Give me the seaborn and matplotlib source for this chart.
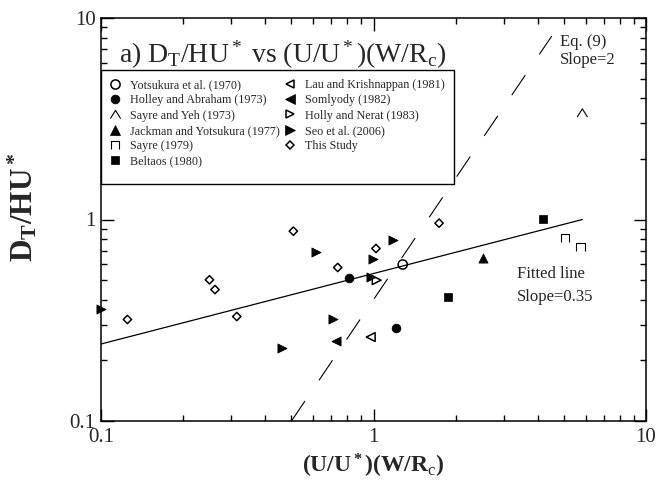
import numpy as np
import pandas as pd
import matplotlib
matplotlib.use("Agg")
import matplotlib.pyplot as plt
import seaborn as sns
from matplotlib.path import Path
from matplotlib.markers import MarkerStyle
from matplotlib.lines import Line2D
from matplotlib.patches import Rectangle
from matplotlib.ticker import FixedLocator, FixedFormatter, LogLocator, NullFormatter

# ---------------- data ----------------
yotsukura_x = [1.28]
yotsukura_y = [0.598]
holley_x = [0.813, 1.206]
holley_y = [0.510, 0.290]
sayre_yeh_x = [5.84]
sayre_yeh_y = [3.38]
jackman_x = [2.515]
jackman_y = [0.645]
sayre_x = [5.04, 5.76]
sayre_y = [0.811, 0.732]
beltaos_x = [4.18, 1.88]
beltaos_y = [1.008, 0.412]
lau_x = [0.977]
lau_y = [0.261]
somlyody_x = [0.729]
somlyody_y = [0.249]
holly_x = [1.027]
holly_y = [0.500]
seo_x = [0.1, 0.463, 0.615, 0.712, 0.979, 0.998, 1.176]
seo_y = [0.358, 0.229, 0.691, 0.319, 0.520, 0.638, 0.789]
study_x = [0.125, 0.25, 0.262, 0.315, 0.508, 0.739, 1.021, 1.74]
study_y = [0.319, 0.502, 0.449, 0.330, 0.875, 0.578, 0.718, 0.959]

fit_x = [0.1, 5.84]
fit_y = [0.241, 1.0]
eq9_x = [0.5, 4.51]
eq9_y = [0.1, 8.14]

tick_values = [0.1, 1, 10]
tick_labels = ["0.1", "1", "10"]

# ---------------- style ----------------
sns.set_style("ticks")
plt.rcParams.update({
    "font.family": ["Liberation Serif", "DejaVu Serif"],
    "mathtext.fontset": "custom",
    "mathtext.rm": "Liberation Serif",
    "mathtext.it": "Liberation Serif:italic",
    "mathtext.bf": "Liberation Serif:bold",
    "lines.scale_dashes": False,
    "axes.linewidth": 1.1,
})

caret = MarkerStyle(Path([(-1, -0.8), (0, 0.8), (1, -0.8)],
                         [Path.MOVETO, Path.LINETO, Path.LINETO]))
cap = MarkerStyle(Path([(-1, -1), (-1, 1), (1, 1), (1, -1)],
                       [Path.MOVETO, Path.LINETO, Path.LINETO, Path.LINETO]))

series = [
    # label, x, y, marker, filled, size(pt^2), lw
    ("Yotsukura et al. (1970)", yotsukura_x, yotsukura_y, "o", False, 44, 1.1),
    ("Holley and Abraham (1973)", holley_x, holley_y, "o", True, 40, 0.5),
    ("Sayre and Yeh (1973)", sayre_yeh_x, sayre_yeh_y, caret, False, 55, 0.8),
    ("Jackman and Yotsukura (1977)", jackman_x, jackman_y, "^", True, 44, 0.5),
    ("Sayre (1979)", sayre_x, sayre_y, cap, False, 38, 0.8),
    ("Beltaos (1980)", beltaos_x, beltaos_y, "s", True, 36, 0.5),
    ("Lau and Krishnappan (1981)", lau_x, lau_y, "<", False, 40, 1.1),
    ("Somlyody (1982)", somlyody_x, somlyody_y, "<", True, 44, 0.5),
    ("Holly and Nerat (1983)", holly_x, holly_y, ">", False, 40, 1.1),
    ("Seo et al. (2006)", seo_x, seo_y, ">", True, 44, 0.5),
    ("This Study", study_x, study_y, "D", False, 18, 1.1),
]

fig = plt.figure(figsize=(6.57, 4.83), dpi=100)
ax = fig.add_axes([101 / 657, 62 / 483, 545 / 657, 403 / 483])
ax.set_xscale("log")
ax.set_yscale("log")

# lines
sns.lineplot(x=fit_x, y=fit_y, ax=ax, color="black", linewidth=0.9, sort=False)
sns.lineplot(x=eq9_x, y=eq9_y, ax=ax, color="black", linewidth=0.8, sort=False,
             linestyle=(0, (17.4, 18.0)))

handles = []
for label, xs, ys, m, filled, s, lw in series:
    fc = "black" if filled else "none"
    sns.scatterplot(x=xs, y=ys, ax=ax, marker=m, s=s, facecolor=fc,
                    edgecolor="black", linewidth=lw, clip_on=False, zorder=3,
                    legend=False)
    handles.append(Line2D([], [], linestyle="none", marker=m, color="black",
                          markerfacecolor=fc, markeredgecolor="black",
                          markersize=np.sqrt(s) * 1.0, markeredgewidth=lw,
                          label=label))

ax.set_xlim(0.1, 10)
ax.set_ylim(0.1, 10)

for axis in (ax.xaxis, ax.yaxis):
    axis.set_major_locator(FixedLocator(tick_values))
    axis.set_major_formatter(FixedFormatter(tick_labels))
    axis.set_minor_locator(LogLocator(base=10, subs=np.arange(2, 10)))
    axis.set_minor_formatter(NullFormatter())

ax.tick_params(which="both", direction="in", top=True, right=True,
               width=1.0, color="black", labelsize=15)
ax.tick_params(which="major", length=9, pad=4)
ax.tick_params(which="minor", length=4.5)
ax.tick_params(axis="x", which="major", pad=5)
for sp in ax.spines.values():
    sp.set_color("black")
    sp.set_linewidth(1.1)

ax.set_xlabel(r"$\mathbf{(U/U^*)(W/R}_\mathrm{c}\mathbf{)}$", fontsize=17)
ax.xaxis.set_label_coords(0.5, -0.077)
ax.set_ylabel(r"$\mathbf{D_T/HU^*}$", fontsize=22.5)
ax.yaxis.set_label_coords(-0.112, 0.53)

# title inside
ax.text(0.033, 0.888, r"a) D$_\mathrm{T}$/HU$^*$ vs (U/U$^*$)(W/R$_\mathrm{c}$)",
        transform=ax.transAxes, fontsize=20, va="baseline", ha="left")

# annotations
ax.text(0.842, 0.941, "Eq. (9)", transform=ax.transAxes, fontsize=12, va="center")
ax.text(0.842, 0.896, "Slope=2", transform=ax.transAxes, fontsize=12, va="center")
ax.text(0.763, 0.365, "Fitted line", transform=ax.transAxes, fontsize=12, va="center")
ax.text(0.763, 0.308, "Slope=0.35", transform=ax.transAxes, fontsize=12, va="center")

# legend frame
ax.add_patch(Rectangle((0, 0.588), 0.648, 0.871 - 0.588, transform=ax.transAxes,
                       facecolor="white", edgecolor="black", linewidth=1.0,
                       zorder=4, clip_on=False))

leg_kw = dict(frameon=False, fontsize=8.7, handlelength=1.2, handletextpad=0.64,
              labelspacing=0.27, borderpad=0, borderaxespad=0, loc="upper left")
leg1 = ax.legend(handles=handles[:6], bbox_to_anchor=(0.0124, 0.8486), **leg_kw)
leg1.set_zorder(5)
ax.add_artist(leg1)
leg2 = ax.legend(handles=handles[6:], bbox_to_anchor=(0.3335, 0.8486), **leg_kw)
leg2.set_zorder(5)

fig.savefig("out.png", dpi=100)
